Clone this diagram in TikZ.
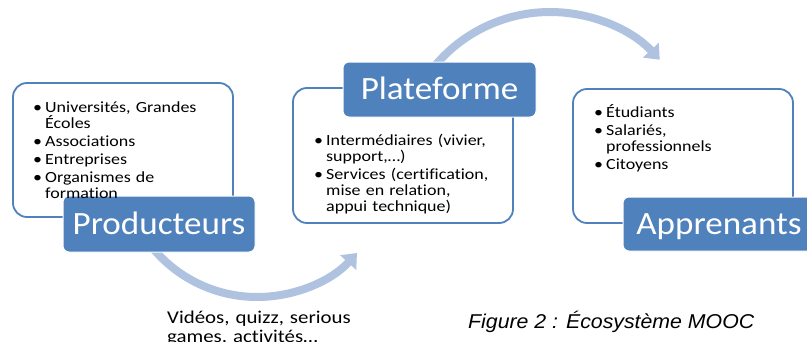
\documentclass[tikz,border=0pt]{standalone}
\usepackage{fontspec}
\setmainfont{Carlito}[FakeStretch=1.16, Ligatures=CommonOff]
\newfontfamily\bigfont{Carlito}[FakeStretch=1.08, Ligatures=CommonOff]
\newfontfamily\capfont{Liberation Sans}[FakeStretch=1.065]
\usetikzlibrary{arrows.meta}
\definecolor{boxblue}{HTML}{4F81BD}
\definecolor{edgeblue}{HTML}{4F81BD}
\definecolor{arcblue}{HTML}{AFC2E0}
\newcommand\itm[1]{\par\hangindent=12pt\hangafter=1\noindent\makebox[12pt][l]{\textbullet}#1\par}
\newcommand\firststrut{\rule{0pt}{13pt}}
\tikzset{
  listbox/.style={draw=edgeblue, line width=1.8pt, fill=white, rounded corners=14pt,
    minimum width=220pt, minimum height=134pt},
  titlebox/.style={fill=boxblue, draw=white, line width=1pt, rounded corners=6pt,
    minimum width=192pt, minimum height=55pt, text=white, inner sep=0pt,
    font=\bigfont\fontsize{32.5}{36}\selectfont, text height=21pt, text depth=0pt},
  listtext/.style={anchor=north west, inner sep=0pt, text width=250pt,
    font=\fontsize{15.5}{16}\selectfont\setlength\parskip{2pt}},
  flow/.style={arcblue, line width=8pt, -{Triangle[width=21pt,length=13pt]}},
}
\begin{document}
\begin{tikzpicture}[x=1pt,y=1pt]
\fill[white] (0,0) rectangle (807,341);
\useasboundingbox (0,0) rectangle (807,341);
% arcs
\coordinate (tc) at (550,179);
\coordinate (bc) at (257,179.6);
\draw[flow] ([shift={(150:150)}]tc) coordinate (tstart) arc[start angle=150, end angle=43, radius=150] coordinate (tend);
\draw[flow] ([shift={(210:135.6)}]bc) coordinate (bstart) arc[start angle=210, end angle=317.5, radius=135.6] coordinate (bend);
% white boxes
\node[listbox] (prodlist) at (123,191) {};
\node[listbox, minimum height=135pt] (platlist) at (403,185.5) {};
\node[listbox] (applist) at (683,185) {};
% blue boxes
\node[titlebox, minimum height=56pt] (prod) at (159,117) {Producteurs};
\node[titlebox, minimum width=193pt] (plat) at (439.5,251.5) {Plateforme};
\node[titlebox, minimum height=54pt] (app) at (719,117) {Apprenants};
% lists
\node[listtext] (prodtext) at (33,247) {%
  \itm{\firststrut Universités, Grandes\newline Écoles}
  \itm{Associations}
  \itm{Entreprises}
  \itm{Organismes de\newline formation}};
\node[listtext] (plattext) at (314,214) {%
  \itm{\firststrut Intermédiaires (vivier,\newline support,…)}
  \itm{Services (certification,\newline mise en relation,\newline appui technique)}};
\node[listtext] (apptext) at (594,242) {%
  \itm{\firststrut Étudiants}
  \itm{Salariés,\newline professionnels}
  \itm{Citoyens}};
% bottom texts
\node[listtext, font=\fontsize{18}{19}\selectfont] (media) at (167,31) {%
  \firststrut Vidéos, quizz, serious\newline games, activités…};
\node[anchor=base west, inner sep=0pt, font=\capfont\itshape\fontsize{20}{24}\selectfont] (caption) at (468,13) {Figure 2 : Écosystème MOOC};
\end{tikzpicture}
\end{document}
